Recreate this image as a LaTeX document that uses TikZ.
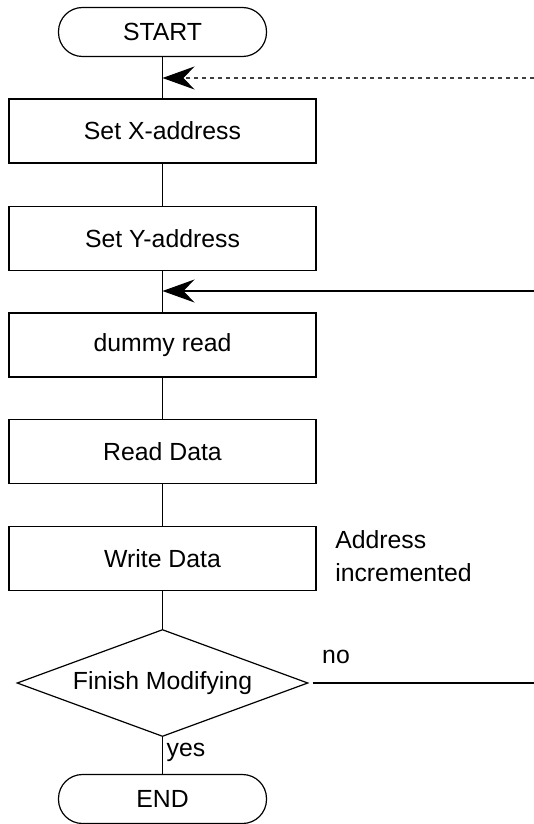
\documentclass[tikz,border=0pt]{standalone}
\usepackage{fontspec}
\setmainfont{Liberation Sans}
\usepackage{tikz}
\usetikzlibrary{arrows.meta}
\usetikzlibrary{shapes.geometric}

\begin{document}
\begin{tikzpicture}
	[x=0.5pt,y=-0.5pt,line width=0.6pt,
	every node/.style={font=\fontsize{12.4}{16.5}\selectfont},
	box/.style={draw,rectangle,minimum width=153.5pt,minimum height=32pt,inner sep=0pt},
	term/.style={draw,rectangle,rounded corners=12pt,minimum width=104pt,minimum height=24.5pt,inner sep=0pt},
	test/.style={draw,diamond,aspect=2.72,minimum width=145.5pt,minimum height=53.5pt,inner sep=0pt},
	loopin/.style={-{Stealth[length=16pt,width=11.5pt,inset=5.5pt,black]}}]
	\useasboundingbox (0,0) rectangle (534,824);
	\node[term] (start) at (162.5,32) {START};
	\node[box] (setx) at (162.5,131) {Set X-address};
	\node[box] (sety) at (162.5,238.5) {Set Y-address};
	\node[box] (dummy) at (162.5,345) {dummy read};
	\node[box] (rdata) at (162.5,451.5) {Read Data};
	\node[box] (wdata) at (162.5,558.5) {Write Data};
	\node[test] (fin) at (162.5,683) {Finish Modifying};
	\node[term] (stop) at (162.5,799) {END};
	
	\node[anchor=west,align=left] (incr) at (328,556) {Address\\incremented};
	\node (no) at (336,657) {no};
	\node (yes) at (186,752) {yes};
	
	\coordinate (r1) at (534,78);
	\coordinate (r2) at (534,291);
	\coordinate (r3) at (534,683);
	
	\foreach \from/\to in 
	{start/setx, setx/sety, sety/dummy, dummy/rdata, rdata/wdata, wdata/fin, fin/stop}
	\draw (\from) -- (\to);
	\draw[loopin,dashed,dash pattern=on 2pt off 2pt,black!75] (r1) -- (r1 -| start.south);
	\draw[loopin] (r2) -- (r2 -| sety.south);
	\draw[shorten <=2pt] (fin.east) -- (r3);
\end{tikzpicture}
\end{document}
